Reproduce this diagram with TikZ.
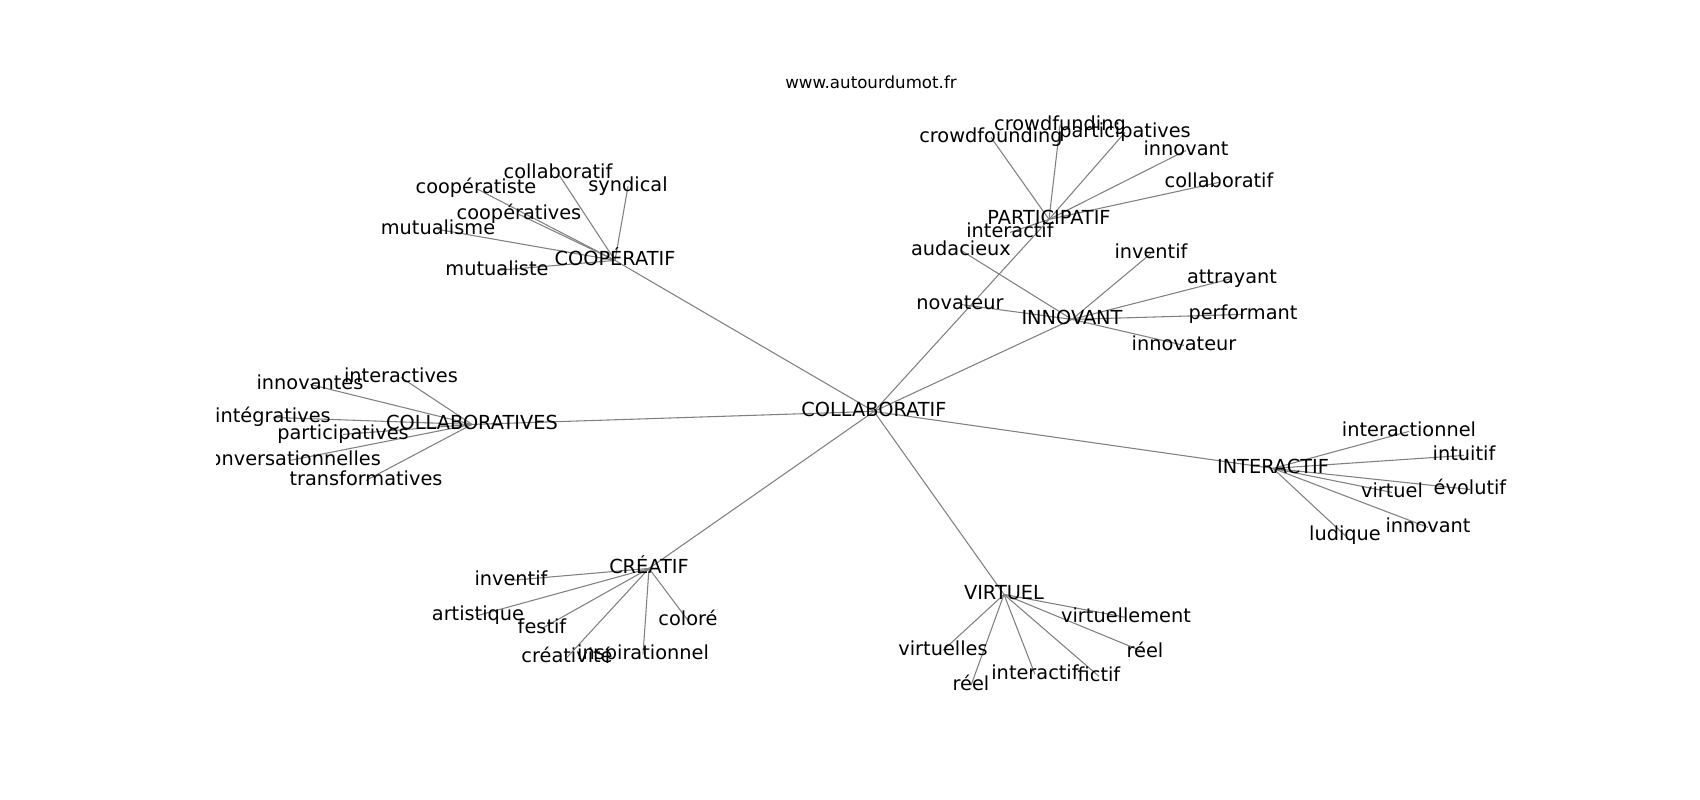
\documentclass[tikz,border=0pt]{standalone}
\usepackage{fontspec}
\setmainfont{DejaVu Sans}
\usetikzlibrary{backgrounds}

\begin{document}
\begin{tikzpicture}[x=0.75pt,y=-0.75pt,every node/.style={inner sep=0pt,yshift=-1.8pt,text height=10.9pt,text depth=3.3pt,font=\fontsize{14.5}{17}\selectfont},edge/.style={draw=gray,line width=0.8pt}]
  \useasboundingbox (0,0) rectangle (1700,800);
  \node (title) [font=\fontsize{12.5}{14}\selectfont,text height=9.2pt,text depth=2.7pt] at (871,82) {www.autourdumot.fr};
  \begin{scope}
  \clip (216,96) rectangle (1530,712);
  \path (874,409) node (c) {COLLABORATIF}
  (615,258) node (coop) {COOPÉRATIF} (1049,217) node (part) {PARTICIPATIF}
  (1072,317) node (inno) {INNOVANT} (472,422) node (colv) {COLLABORATIVES}
  (1273,466) node (inter) {INTERACTIF} (649,566) node (crea) {CRÉATIF}
  (1004,592) node (virt) {VIRTUEL};
  % COOPÉRATIF
  \path (558,171) node (coop1) {collaboratif} (476,186) node (coop2) {coopératiste}
  (628,184) node (coop3) {syndical} (519,212) node (coop4) {coopératives}
  (438,227) node (coop5) {mutualisme} (497,268) node (coop6) {mutualiste};
  % PARTICIPATIF
  \path (991,135) node (part1) {crowdfounding} (1060,123) node (part2) {crowdfunding}
  (1125,130) node (part3) {participatives} (1186,148) node (part4) {innovant}
  (1219,180) node (part5) {collaboratif} (1010,230) node (part6) {interactif};
  % INNOVANT
  \path (961,248) node (inno1) {audacieux} (960,302) node (inno2) {novateur}
  (1151,251) node (inno3) {inventif} (1232,276) node (inno4) {attrayant}
  (1243,312) node (inno5) {performant} (1184,343) node (inno6) {innovateur};
  % COLLABORATIVES
  \path (401,375) node (colv1) {interactives} (310,382) node (colv2) {innovantes}
  (273,415) node (colv3) {intégratives} (343,432) node (colv4) {participatives}
  (290,458) node (colv5) {conversationnelles} (366,478) node (colv6) {transformatives};
  % INTERACTIF
  \path (1409,429) node (inter1) {interactionnel} (1464,453) node (inter2) {intuitif}
  (1470,487) node (inter3) {évolutif} (1392,490) node (inter4) {virtuel}
  (1428,525) node (inter5) {innovant} (1345,533) node (inter6) {ludique};
  % CRÉATIF
  \path (511,578) node (crea1) {inventif} (478,613) node (crea2) {artistique}
  (542,626) node (crea3) {festif} (688,618) node (crea4) {coloré}
  (567,655) node (crea5) {créativité} (643,652) node (crea6) {inspirationnel};
  % VIRTUEL
  \path (1126,615) node (virt1) {virtuellement} (1145,650) node (virt2) {réel}
  (943,648) node (virt3) {virtuelles} (971,683) node (virt4) {réel}
  (1035,672) node (virt5) {interactif} (1099,674) node (virt6) {fictif};
  \end{scope}
  \begin{scope}[on background layer]
  \foreach \h in {coop,part,inno,colv,inter,crea,virt} {
    \draw[edge] (c.center) -- (\h.center);
    \foreach \n in {1,...,6}
      \draw[edge] (\h.center) -- (\h\n.center);
  }
  \end{scope}
\end{tikzpicture}
\end{document}
